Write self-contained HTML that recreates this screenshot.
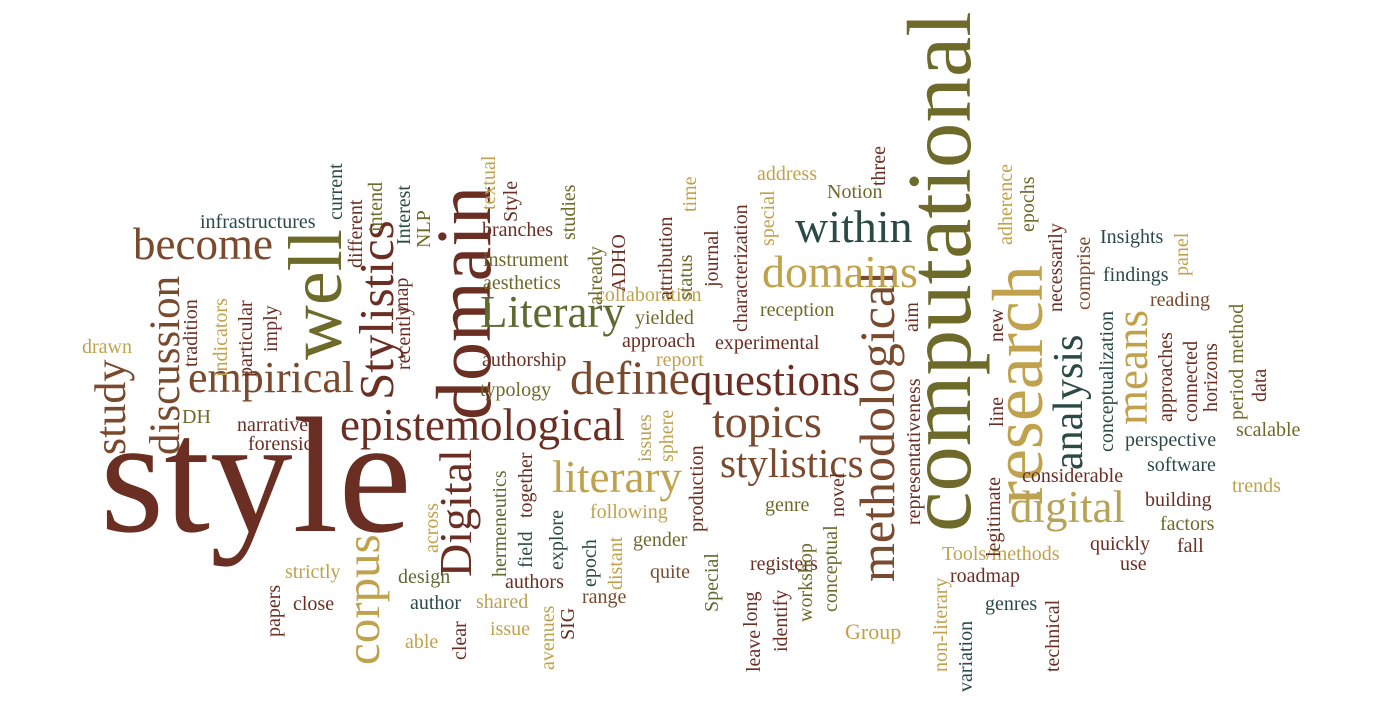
<!DOCTYPE html>
<html><head><meta charset="utf-8">
<style>
html,body{margin:0;padding:0;background:#fff;}
#cloud{position:relative;width:1397px;height:706px;overflow:hidden;background:#fff;}
.w{position:absolute;white-space:nowrap;line-height:1;font-family:"Liberation Serif",serif;}
.v{transform:rotate(-90deg);transform-origin:0 0;}
.A{color:#6a2e22}.B{color:#7a4a2e}.C{color:#6d6a2a}.D{color:#c0a24c}.E{color:#2b4a46}.F{color:#5d6a30}.G{color:#b8a256}
</style></head><body>
<div id="cloud">
<!-- large -->
<span class="w A" style="left:100px;top:393px;font-size:165px">style</span>
<span class="w v C" style="left:894px;top:532px;font-size:91px">computational</span>
<span class="w v C" style="left:278px;top:360px;font-size:76px">well</span>
<span class="w v A" style="left:425px;top:420px;font-size:78px">domain</span>
<span class="w v A" style="left:433px;top:577px;font-size:46px">Digital</span>
<span class="w v A" style="left:352px;top:400px;font-size:49px">Stylistics</span>
<span class="w v B" style="left:144px;top:455px;font-size:43px">discussion</span>
<span class="w v B" style="left:89px;top:455px;font-size:44px">study</span>
<span class="w v B" style="left:852px;top:582px;font-size:50px">methodological</span>
<span class="w v D" style="left:982px;top:505px;font-size:72px">research</span>
<span class="w v E" style="left:1048px;top:470px;font-size:42px">analysis</span>
<span class="w v D" style="left:1110px;top:425px;font-size:45px">means</span>
<span class="w v D" style="left:338px;top:665px;font-size:49px">corpus</span>
<span class="w B" style="left:133px;top:222px;font-size:45px">become</span>
<span class="w B" style="left:188px;top:356px;font-size:44px">empirical</span>
<span class="w A" style="left:340px;top:403px;font-size:45px">epistemological</span>
<span class="w F" style="left:480px;top:290px;font-size:45px">Literary</span>
<span class="w B" style="left:570px;top:355px;font-size:48px">define</span>
<span class="w A" style="left:690px;top:358px;font-size:45px">questions</span>
<span class="w D" style="left:552px;top:455px;font-size:45px">literary</span>
<span class="w B" style="left:712px;top:399px;font-size:46px">topics</span>
<span class="w B" style="left:720px;top:443px;font-size:41px">stylistics</span>
<span class="w E" style="left:795px;top:204px;font-size:46px">within</span>
<span class="w D" style="left:762px;top:249px;font-size:46px">domains</span>
<span class="w G" style="left:1010px;top:485px;font-size:45px">digital</span>
<!-- small horizontal -->
<span class="w E" style="left:200px;top:212px;font-size:20px">infrastructures</span>
<span class="w A" style="left:482px;top:220px;font-size:20px">branches</span>
<span class="w C" style="left:483px;top:250px;font-size:20px">instrument</span>
<span class="w C" style="left:483px;top:273px;font-size:20px">aesthetics</span>
<span class="w D" style="left:596px;top:285px;font-size:20px">collaboration</span>
<span class="w C" style="left:635px;top:308px;font-size:20px">yielded</span>
<span class="w A" style="left:622px;top:331px;font-size:20px">approach</span>
<span class="w D" style="left:656px;top:350px;font-size:20px">report</span>
<span class="w A" style="left:482px;top:350px;font-size:20px">authorship</span>
<span class="w C" style="left:480px;top:380px;font-size:20px">typology</span>
<span class="w D" style="left:757px;top:164px;font-size:20px">address</span>
<span class="w C" style="left:827px;top:182px;font-size:20px">Notion</span>
<span class="w C" style="left:760px;top:300px;font-size:20px">reception</span>
<span class="w A" style="left:715px;top:333px;font-size:20px">experimental</span>
<span class="w E" style="left:1100px;top:227px;font-size:20px">Insights</span>
<span class="w E" style="left:1103px;top:265px;font-size:20px">findings</span>
<span class="w B" style="left:1150px;top:290px;font-size:20px">reading</span>
<span class="w E" style="left:1125px;top:430px;font-size:20px">perspective</span>
<span class="w C" style="left:1236px;top:420px;font-size:20px">scalable</span>
<span class="w A" style="left:1022px;top:466px;font-size:20px">considerable</span>
<span class="w E" style="left:1147px;top:455px;font-size:20px">software</span>
<span class="w D" style="left:1232px;top:476px;font-size:20px">trends</span>
<span class="w A" style="left:1145px;top:490px;font-size:20px">building</span>
<span class="w C" style="left:1160px;top:514px;font-size:20px">factors</span>
<span class="w A" style="left:1177px;top:536px;font-size:20px">fall</span>
<span class="w A" style="left:1090px;top:534px;font-size:20px">quickly</span>
<span class="w A" style="left:1120px;top:554px;font-size:20px">use</span>
<span class="w D" style="left:942px;top:544px;font-size:20px">Tools/methods</span>
<span class="w A" style="left:950px;top:566px;font-size:20px">roadmap</span>
<span class="w E" style="left:985px;top:594px;font-size:20px">genres</span>
<span class="w D" style="left:845px;top:621px;font-size:22px">Group</span>
<span class="w A" style="left:750px;top:554px;font-size:20px">registers</span>
<span class="w C" style="left:765px;top:495px;font-size:20px">genre</span>
<span class="w B" style="left:650px;top:562px;font-size:20px">quite</span>
<span class="w D" style="left:590px;top:502px;font-size:20px">following</span>
<span class="w C" style="left:633px;top:530px;font-size:20px">gender</span>
<span class="w B" style="left:582px;top:587px;font-size:20px">range</span>
<span class="w D" style="left:490px;top:619px;font-size:20px">issue</span>
<span class="w G" style="left:476px;top:592px;font-size:20px">shared</span>
<span class="w A" style="left:505px;top:572px;font-size:20px">authors</span>
<span class="w E" style="left:410px;top:593px;font-size:20px">author</span>
<span class="w D" style="left:405px;top:632px;font-size:20px">able</span>
<span class="w F" style="left:398px;top:567px;font-size:20px">design</span>
<span class="w D" style="left:285px;top:562px;font-size:20px">strictly</span>
<span class="w A" style="left:293px;top:594px;font-size:20px">close</span>
<span class="w C" style="left:182px;top:407px;font-size:20px">DH</span>
<span class="w A" style="left:237px;top:415px;font-size:20px">narrative</span>
<span class="w A" style="left:248px;top:434px;font-size:20px">forensics</span>
<span class="w D" style="left:82px;top:337px;font-size:20px">drawn</span>
<!-- small vertical -->
<span class="w v E" style="left:326px;top:220px;font-size:20px">current</span>
<span class="w v A" style="left:346px;top:268px;font-size:20px">different</span>
<span class="w v C" style="left:366px;top:232px;font-size:20px">intend</span>
<span class="w v E" style="left:394px;top:245px;font-size:20px">Interest</span>
<span class="w v C" style="left:414px;top:248px;font-size:20px">NLP</span>
<span class="w v A" style="left:392px;top:312px;font-size:20px">map</span>
<span class="w v A" style="left:394px;top:370px;font-size:20px">recently</span>
<span class="w v D" style="left:479px;top:210px;font-size:20px">textual</span>
<span class="w v A" style="left:501px;top:222px;font-size:20px">Style</span>
<span class="w v C" style="left:559px;top:240px;font-size:20px">studies</span>
<span class="w v C" style="left:586px;top:305px;font-size:20px">already</span>
<span class="w v A" style="left:609px;top:292px;font-size:20px">ADHO</span>
<span class="w v A" style="left:656px;top:300px;font-size:20px">attribution</span>
<span class="w v C" style="left:676px;top:300px;font-size:20px">status</span>
<span class="w v D" style="left:680px;top:212px;font-size:20px">time</span>
<span class="w v A" style="left:702px;top:287px;font-size:20px">journal</span>
<span class="w v A" style="left:731px;top:332px;font-size:20px">characterization</span>
<span class="w v D" style="left:758px;top:246px;font-size:20px">special</span>
<span class="w v A" style="left:869px;top:186px;font-size:20px">three</span>
<span class="w v A" style="left:902px;top:332px;font-size:20px">aim</span>
<span class="w v A" style="left:904px;top:525px;font-size:20px">representativeness</span>
<span class="w v D" style="left:996px;top:245px;font-size:20px">adherence</span>
<span class="w v C" style="left:1018px;top:232px;font-size:20px">epochs</span>
<span class="w v A" style="left:1046px;top:312px;font-size:20px">necessarily</span>
<span class="w v D" style="left:1172px;top:276px;font-size:20px">panel</span>
<span class="w v B" style="left:1074px;top:310px;font-size:20px">comprise</span>
<span class="w v C" style="left:1227px;top:420px;font-size:20px">period method</span>
<span class="w v A" style="left:987px;top:342px;font-size:20px">new</span>
<span class="w v A" style="left:987px;top:427px;font-size:20px">line</span>
<span class="w v E" style="left:1097px;top:452px;font-size:20px">conceptualization</span>
<span class="w v A" style="left:1156px;top:422px;font-size:20px">approaches</span>
<span class="w v A" style="left:1181px;top:422px;font-size:20px">connected</span>
<span class="w v A" style="left:1201px;top:412px;font-size:20px">horizons</span>
<span class="w v A" style="left:1250px;top:402px;font-size:20px">data</span>
<span class="w v A" style="left:984px;top:557px;font-size:20px">legitimate</span>
<span class="w v D" style="left:931px;top:672px;font-size:20px">non-literary</span>
<span class="w v E" style="left:956px;top:692px;font-size:20px">variation</span>
<span class="w v A" style="left:1043px;top:672px;font-size:20px">technical</span>
<span class="w v C" style="left:821px;top:612px;font-size:20px">conceptual</span>
<span class="w v C" style="left:796px;top:622px;font-size:20px">workshop</span>
<span class="w v A" style="left:771px;top:652px;font-size:20px">identify</span>
<span class="w v A" style="left:744px;top:672px;font-size:20px">leave</span>
<span class="w v A" style="left:741px;top:627px;font-size:20px">long</span>
<span class="w v A" style="left:828px;top:517px;font-size:20px">novel</span>
<span class="w v F" style="left:702px;top:612px;font-size:20px">Special</span>
<span class="w v A" style="left:687px;top:532px;font-size:20px">production</span>
<span class="w v D" style="left:657px;top:462px;font-size:20px">sphere</span>
<span class="w v G" style="left:635px;top:462px;font-size:20px">issues</span>
<span class="w v D" style="left:606px;top:590px;font-size:20px">distant</span>
<span class="w v E" style="left:580px;top:587px;font-size:20px">epoch</span>
<span class="w v A" style="left:558px;top:640px;font-size:20px">SIG</span>
<span class="w v D" style="left:538px;top:670px;font-size:20px">avenues</span>
<span class="w v E" style="left:547px;top:570px;font-size:20px">explore</span>
<span class="w v A" style="left:516px;top:518px;font-size:20px">together</span>
<span class="w v E" style="left:516px;top:568px;font-size:20px">field</span>
<span class="w v F" style="left:490px;top:577px;font-size:20px">hermeneutics</span>
<span class="w v D" style="left:422px;top:553px;font-size:20px">across</span>
<span class="w v A" style="left:450px;top:660px;font-size:20px">clear</span>
<span class="w v A" style="left:264px;top:637px;font-size:20px">papers</span>
<span class="w v D" style="left:211px;top:377px;font-size:20px">indicators</span>
<span class="w v A" style="left:181px;top:367px;font-size:20px">tradition</span>
<span class="w v A" style="left:236px;top:377px;font-size:20px">particular</span>
<span class="w v A" style="left:261px;top:352px;font-size:20px">imply</span>
</div>
</body></html>
